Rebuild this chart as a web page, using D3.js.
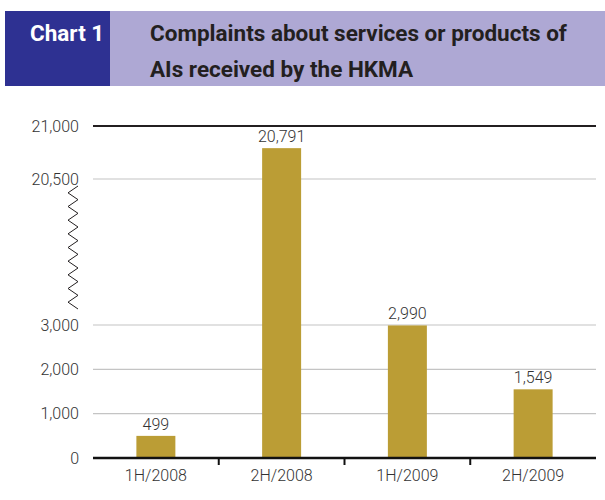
<!DOCTYPE html>
<html>
<head>
<meta charset="utf-8">
<script src="https://cdn.jsdelivr.net/npm/d3@7"></script>
<style>
  body { margin: 0; background: #fff; }
  svg { display: block; font-family: Roboto, "DejaVu Sans", sans-serif; }
</style>
</head>
<body>
<div id="chart"></div>
<script>
// data
const periods = ["1H/2008", "2H/2008", "1H/2009", "2H/2009"];
const complaints = [499, 20791, 2990, 1549];
const lowTicks = [0, 1000, 2000, 3000];
const highTicks = [20500, 21000];

const width = 605, height = 500;
const margin = { left: 93, right: 9, top: 126, bottom: 42 };

const svg = d3.select("#chart").append("svg")
  .attr("width", width)
  .attr("height", height);

// header
svg.append("rect").attr("x", 110).attr("y", 11).attr("width", width - 110).attr("height", 75).attr("fill", "#aea8d4");
svg.append("rect").attr("x", 5).attr("y", 11).attr("width", 105).attr("height", 75).attr("fill", "#2e3192");
svg.append("text").attr("x", 30).attr("y", 41).attr("fill", "#fff")
  .style("font-size", "22.5px").style("font-weight", "bold").text("Chart 1");
svg.append("text").attr("x", 150).attr("y", 41).attr("fill", "#231f20")
  .style("font-size", "22.5px").style("font-weight", "bold").text("Complaints about services or products of");
svg.append("text").attr("x", 150).attr("y", 77).attr("fill", "#231f20")
  .style("font-size", "22.5px").style("font-weight", "bold").text("AIs received by the HKMA");

// scales - broken axis between 3,000 and 20,500
const x = d3.scaleBand()
  .domain(periods)
  .range([margin.left, width - margin.right])
  .paddingInner(0.69)
  .paddingOuter(0.345);

const xEdge = d3.scaleBand().domain(periods).range([margin.left, width - margin.right]);

const y = d3.scaleLinear()
  .domain([0, 3000, 20500, 21000])
  .range([458, 325, 179, 126]);

// gridlines
const grid = svg.append("g");
grid.selectAll("line")
  .data(lowTicks.slice(1).concat([20500]))
  .enter().append("line")
  .attr("x1", margin.left).attr("x2", width - margin.right)
  .attr("y1", d => y(d)).attr("y2", d => y(d))
  .attr("stroke", "#c4c4c4").attr("stroke-width", 1.2);

svg.append("line")
  .attr("x1", margin.left).attr("x2", width - margin.right)
  .attr("y1", y(21000)).attr("y2", y(21000))
  .attr("stroke", "#231f20").attr("stroke-width", 2);

// bars
svg.selectAll("rect.bar")
  .data(complaints)
  .enter().append("rect")
  .attr("class", "bar")
  .attr("x", (d, i) => x(periods[i]))
  .attr("width", x.bandwidth())
  .attr("y", d => y(d))
  .attr("height", d => y(0) - y(d))
  .attr("fill", "#bb9d35");

// value labels
svg.selectAll("text.val")
  .data(complaints)
  .enter().append("text")
  .attr("class", "val")
  .attr("x", (d, i) => x(periods[i]) + x.bandwidth() / 2)
  .attr("y", d => y(d) - 6)
  .attr("text-anchor", "middle")
  .attr("fill", "#333")
  .style("font-size", "16px")
  .style("font-weight", 300)
  .text(d => d3.format(",")(d));

// baseline + x axis
const xAxis = svg.append("g")
  .attr("transform", "translate(0," + y(0) + ")")
  .call(d3.axisBottom(x).tickSize(0).tickPadding(12));
xAxis.select(".domain").remove();
xAxis.selectAll("text").attr("fill", "#333").style("font-size", "16px")
  .style("font-weight", 300).style("font-family", "Roboto, sans-serif");

svg.append("line")
  .attr("x1", margin.left).attr("x2", width - margin.right)
  .attr("y1", y(0)).attr("y2", y(0))
  .attr("stroke", "#111").attr("stroke-width", 2.5);

svg.selectAll("line.sep")
  .data(periods.slice(1))
  .enter().append("line")
  .attr("class", "sep")
  .attr("x1", d => xEdge(d)).attr("x2", d => xEdge(d))
  .attr("y1", y(0)).attr("y2", y(0) + 7)
  .attr("stroke", "#111").attr("stroke-width", 2);

// y axis labels
const yAxis = svg.append("g")
  .attr("transform", "translate(" + margin.left + ",0)")
  .call(d3.axisLeft(y).tickValues(lowTicks.concat(highTicks)).tickSize(0).tickPadding(14).tickFormat(d3.format(",")));
yAxis.select(".domain").remove();
yAxis.selectAll("text").attr("fill", "#333").style("font-size", "16px")
  .style("font-weight", 300).style("font-family", "Roboto, sans-serif");

// break zigzag
const zig = [];
const zTop = 186, zBot = 309, n = 9;
const step = (zBot - zTop) / n;
for (let i = 0; i <= n; i++) {
  zig.push([78, zTop + i * step]);
  if (i < n) zig.push([68, zTop + (i + 0.5) * step]);
}
svg.append("path")
  .attr("d", d3.line()(zig))
  .attr("fill", "none")
  .attr("stroke", "#231f20")
  .attr("stroke-width", 1);
</script>
</body>
</html>
